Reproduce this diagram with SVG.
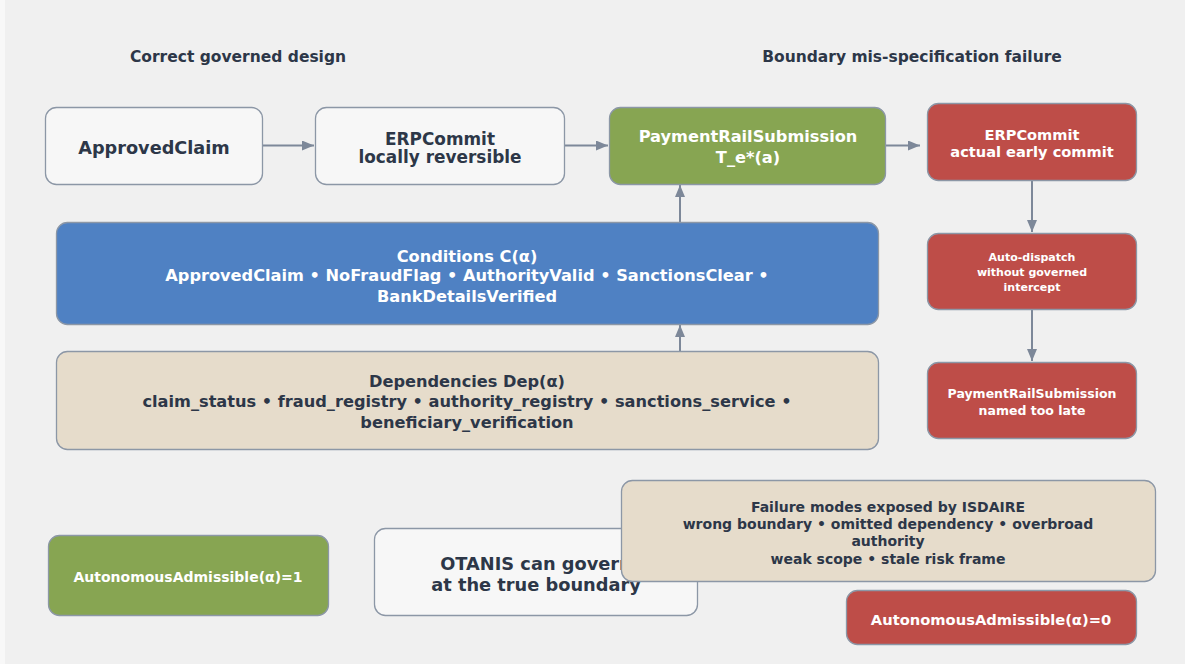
<svg xmlns="http://www.w3.org/2000/svg" width="1185" height="664" viewBox="0 0 1185 664">
<defs>
<marker id="ah" markerWidth="12" markerHeight="10" refX="12" refY="5" orient="auto" markerUnits="userSpaceOnUse">
<path d="M0,0 L12,5 L0,10 Z" fill="#7d8899"/>
</marker>
<style>
.bg{fill:#f0f0f0}
.n{stroke:#8c97a6;stroke-width:1.3}
.w{fill:#f7f7f7}
.g{fill:#87a552}
.r{fill:#be4d48}
.b{fill:#4f81c3}
.k{fill:#e6dccb}
text{font-family:"DejaVu Sans","Liberation Sans",sans-serif;font-weight:bold;text-anchor:middle}
.dk{fill:#2d3748}
.lt{fill:#ffffff}
.c{stroke:#7d8899;stroke-width:2;fill:none}
</style>
</defs>
<rect class="bg" x="0" y="0" width="1185" height="664"/>
<rect x="0" y="0" width="5" height="664" fill="#f8f8f8"/>
<text class="dk" x="238" y="62" font-size="15.5">Correct governed design</text>
<text class="dk" x="912" y="62" font-size="15.5">Boundary mis-specification failure</text>

<g id="connectors">
<line class="c" x1="263" y1="145.5" x2="314" y2="145.5" marker-end="url(#ah)"/>
<line class="c" x1="565" y1="145.5" x2="608" y2="145.5" marker-end="url(#ah)"/>
<line class="c" x1="886" y1="145.5" x2="920" y2="145.5" marker-end="url(#ah)"/>
<line class="c" x1="1032" y1="180" x2="1032" y2="232" marker-end="url(#ah)"/>
<line class="c" x1="1032" y1="309" x2="1032" y2="361" marker-end="url(#ah)"/>
<line class="c" x1="680" y1="222" x2="680" y2="185" marker-end="url(#ah)"/>
<line class="c" x1="680" y1="351" x2="680" y2="325" marker-end="url(#ah)"/>
</g>

<g id="approvedClaim">
<rect class="n w" x="45.5" y="107.5" width="217" height="77" rx="11"/>
<text class="dk" x="154" y="154" font-size="17.7">ApprovedClaim</text>
</g>
<g id="erpCommitLocal">
<rect class="n w" x="315.5" y="107.5" width="249" height="77" rx="11"/>
<text class="dk" x="440" y="145" font-size="16.9">ERPCommit</text>
<text class="dk" x="440" y="163" font-size="16.9">locally reversible</text>
</g>
<g id="paymentRail">
<rect class="n g" x="609.5" y="107.5" width="276" height="77" rx="11"/>
<text class="lt" x="748" y="142" font-size="16.2">PaymentRailSubmission</text>
<text class="lt" x="748" y="163" font-size="16.2">T_e*(a)</text>
</g>
<g id="erpCommitEarly">
<rect class="n r" x="927.5" y="103.5" width="209" height="77" rx="11"/>
<text class="lt" x="1032" y="140" font-size="14.6">ERPCommit</text>
<text class="lt" x="1032" y="157" font-size="14.6">actual early commit</text>
</g>
<g id="autoDispatch">
<rect class="n r" x="927.5" y="233.5" width="209" height="76" rx="11"/>
<text class="lt" x="1032" y="261" font-size="11">Auto-dispatch</text>
<text class="lt" x="1032" y="276" font-size="11">without governed</text>
<text class="lt" x="1032" y="291" font-size="11">intercept</text>
</g>
<g id="paymentLate">
<rect class="n r" x="927.5" y="362.5" width="209" height="76" rx="11"/>
<text class="lt" x="1032" y="398" font-size="12.5">PaymentRailSubmission</text>
<text class="lt" x="1032" y="415" font-size="12.5">named too late</text>
</g>
<g id="conditions">
<rect class="n b" x="56.5" y="222.5" width="822" height="102" rx="11"/>
<text class="lt" x="467" y="262" font-size="16.2">Conditions C(α)</text>
<text class="lt" x="467" y="281" font-size="16.2">ApprovedClaim • NoFraudFlag • AuthorityValid • SanctionsClear •</text>
<text class="lt" x="467" y="302" font-size="16.2">BankDetailsVerified</text>
</g>
<g id="dependencies">
<rect class="n k" x="56.5" y="351.5" width="822" height="98" rx="11"/>
<text class="dk" x="467" y="387" font-size="16.2">Dependencies Dep(α)</text>
<text class="dk" x="467" y="407" font-size="16.2">claim_status • fraud_registry • authority_registry • sanctions_service •</text>
<text class="dk" x="467" y="428" font-size="16.2">beneficiary_verification</text>
</g>
<g id="admissible1">
<rect class="n g" x="48.5" y="535.5" width="280" height="80" rx="11"/>
<text class="lt" x="188" y="582" font-size="14">AutonomousAdmissible(α)=1</text>
</g>
<g id="otanis">
<rect class="n w" x="374.5" y="528.5" width="323" height="87" rx="11"/>
<text class="dk" x="536" y="570" font-size="17.8">OTANIS can govern</text>
<text class="dk" x="536" y="591" font-size="17.8">at the true boundary</text>
</g>
<g id="failureModes">
<rect class="n k" x="621.5" y="480.5" width="534" height="101" rx="11"/>
<text class="dk" x="888" y="512" font-size="14">Failure modes exposed by ISDAIRE</text>
<text class="dk" x="888" y="529" font-size="14">wrong boundary • omitted dependency • overbroad</text>
<text class="dk" x="888" y="546" font-size="14">authority</text>
<text class="dk" x="888" y="564" font-size="14">weak scope • stale risk frame</text>
</g>
<g id="admissible0">
<rect class="n r" x="846.5" y="590.5" width="290" height="54" rx="11"/>
<text class="lt" x="991" y="625" font-size="14.7">AutonomousAdmissible(α)=0</text>
</g>
</svg>
